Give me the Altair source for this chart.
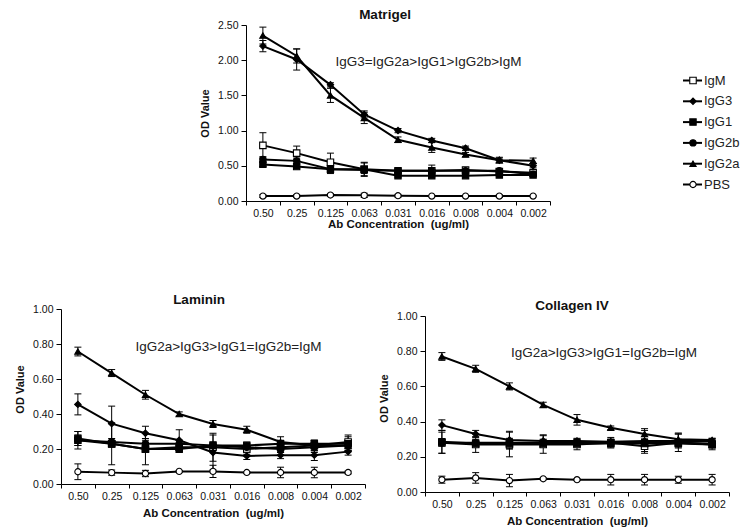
import altair as alt
import pandas as pd

# ---------------- data ----------------
conc = ["0.50", "0.25", "0.125", "0.063", "0.031", "0.016", "0.008", "0.004", "0.002"]
series = ["IgM", "IgG3", "IgG1", "IgG2b", "IgG2a", "PBS"]

# Matrigel
mat_IgM = [0.79, 0.68, 0.55, 0.45, 0.43, 0.43, 0.44, 0.42, 0.40]
mat_IgM_err = [0.18, 0.10, 0.13, 0.10, 0.03, 0.08, 0.03, 0.04, 0.03]
mat_IgG3 = [2.20, 2.01, 1.65, 1.23, 1.00, 0.86, 0.75, 0.58, 0.50]
mat_IgG3_err = [0.08, 0.15, 0.03, 0.05, 0.03, 0.03, 0.03, 0.03, 0.03]
mat_IgG1 = [0.52, 0.49, 0.45, 0.45, 0.36, 0.36, 0.36, 0.37, 0.37]
mat_IgG1_err = [0.03, 0.03, 0.05, 0.09, 0.02, 0.02, 0.02, 0.02, 0.02]
mat_IgG2b = [0.59, 0.57, 0.45, 0.44, 0.43, 0.43, 0.43, 0.43, 0.38]
mat_IgG2b_err = [0.04, 0.04, 0.06, 0.05, 0.02, 0.02, 0.02, 0.02, 0.02]
mat_IgG2a = [2.35, 2.06, 1.50, 1.18, 0.87, 0.76, 0.66, 0.58, 0.57]
mat_IgG2a_err = [0.12, 0.10, 0.10, 0.08, 0.04, 0.07, 0.03, 0.04, 0.04]
mat_PBS = [0.07, 0.07, 0.085, 0.08, 0.075, 0.07, 0.07, 0.07, 0.07]
mat_PBS_err = [0.02, 0.02, 0.02, 0.03, 0.02, 0.01, 0.01, 0.02, 0.01]

# Laminin
lam_IgM = [0.25, 0.23, 0.20, 0.21, 0.21, 0.20, 0.21, 0.22, 0.24]
lam_IgM_err = [0.05, 0.12, 0.09, 0.02, 0.08, 0.03, 0.03, 0.03, 0.04]
lam_IgG3 = [0.455, 0.345, 0.29, 0.25, 0.18, 0.16, 0.165, 0.165, 0.185]
lam_IgG3_err = [0.06, 0.10, 0.04, 0.06, 0.10, 0.02, 0.02, 0.03, 0.02]
lam_IgG1 = [0.26, 0.23, 0.20, 0.20, 0.22, 0.22, 0.23, 0.23, 0.23]
lam_IgG1_err = [0.04, 0.02, 0.02, 0.02, 0.02, 0.02, 0.02, 0.02, 0.04]
lam_IgG2b = [0.25, 0.24, 0.23, 0.23, 0.22, 0.21, 0.20, 0.21, 0.22]
lam_IgG2b_err = [0.03, 0.02, 0.03, 0.02, 0.02, 0.02, 0.02, 0.03, 0.03]
lam_IgG2a = [0.757, 0.634, 0.51, 0.40, 0.343, 0.31, 0.24, 0.22, 0.22]
lam_IgG2a_err = [0.025, 0.02, 0.025, 0.012, 0.02, 0.02, 0.03, 0.03, 0.03]
lam_PBS = [0.07, 0.065, 0.06, 0.072, 0.072, 0.066, 0.066, 0.066, 0.066]
lam_PBS_err = [0.045, 0.015, 0.018, 0.005, 0.035, 0.005, 0.03, 0.03, 0.008]

# Collagen IV
col_IgM = [0.28, 0.27, 0.27, 0.27, 0.27, 0.28, 0.26, 0.28, 0.27]
col_IgM_err = [0.06, 0.045, 0.07, 0.05, 0.03, 0.03, 0.04, 0.05, 0.03]
col_IgG3 = [0.38, 0.33, 0.295, 0.29, 0.29, 0.285, 0.29, 0.29, 0.29]
col_IgG3_err = [0.03, 0.02, 0.05, 0.035, 0.015, 0.015, 0.06, 0.04, 0.015]
col_IgG1 = [0.285, 0.275, 0.275, 0.275, 0.275, 0.275, 0.275, 0.275, 0.27]
col_IgG1_err = [0.065, 0.02, 0.03, 0.02, 0.02, 0.02, 0.02, 0.02, 0.02]
col_IgG2b = [0.28, 0.28, 0.28, 0.28, 0.28, 0.28, 0.28, 0.28, 0.275]
col_IgG2b_err = [0.02, 0.02, 0.02, 0.02, 0.02, 0.02, 0.02, 0.02, 0.02]
col_IgG2a = [0.77, 0.70, 0.60, 0.495, 0.41, 0.365, 0.33, 0.30, 0.295]
col_IgG2a_err = [0.022, 0.02, 0.02, 0.015, 0.03, 0.01, 0.03, 0.035, 0.01]
col_PBS = [0.07, 0.08, 0.065, 0.075, 0.07, 0.07, 0.07, 0.07, 0.07]
col_PBS_err = [0.02, 0.03, 0.035, 0.005, 0.005, 0.03, 0.03, 0.02, 0.03]

mat_ticks = [0.0, 0.5, 1.0, 1.5, 2.0, 2.5]
ecm_ticks = [0.0, 0.2, 0.4, 0.6, 0.8, 1.0]

# ---------------- style ----------------
FONT = "Liberation Sans"
shape_range = ["square", "diamond", "square", "circle", "triangle-up", "circle"]
fill_range = ["white", "black", "black", "black", "black", "white"]
size_range = [42, 38, 60, 45, 55, 36]


def long_df(vals, errs):
    rows = []
    for s in series:
        for c, v, e in zip(conc, vals[s], errs[s]):
            rows.append({"series": s, "conc": c, "od": v, "lo": v - e, "hi": v + e})
    return pd.DataFrame(rows)


mat_df = long_df(
    {"IgM": mat_IgM, "IgG3": mat_IgG3, "IgG1": mat_IgG1, "IgG2b": mat_IgG2b, "IgG2a": mat_IgG2a, "PBS": mat_PBS},
    {"IgM": mat_IgM_err, "IgG3": mat_IgG3_err, "IgG1": mat_IgG1_err, "IgG2b": mat_IgG2b_err, "IgG2a": mat_IgG2a_err, "PBS": mat_PBS_err},
)
lam_df = long_df(
    {"IgM": lam_IgM, "IgG3": lam_IgG3, "IgG1": lam_IgG1, "IgG2b": lam_IgG2b, "IgG2a": lam_IgG2a, "PBS": lam_PBS},
    {"IgM": lam_IgM_err, "IgG3": lam_IgG3_err, "IgG1": lam_IgG1_err, "IgG2b": lam_IgG2b_err, "IgG2a": lam_IgG2a_err, "PBS": lam_PBS_err},
)
col_df = long_df(
    {"IgM": col_IgM, "IgG3": col_IgG3, "IgG1": col_IgG1, "IgG2b": col_IgG2b, "IgG2a": col_IgG2a, "PBS": col_PBS},
    {"IgM": col_IgM_err, "IgG3": col_IgG3_err, "IgG1": col_IgG1_err, "IgG2b": col_IgG2b_err, "IgG2a": col_IgG2a_err, "PBS": col_PBS_err},
)


def panel(df, title, title_dx, title_dy, ymax, ticks, note, note_x, note_y,
          width, height, yrange, ytitle_y, xtitle_pad):
    xaxis = alt.Axis(title="Ab Concentration\u00a0 (ug/ml)", labelAngle=0, tickBand="extent",
                     tickSize=4, labelPadding=3, titlePadding=xtitle_pad, labelFontSize=10.5,
                     titleFontSize=11.5, titleFontWeight="bold", labelFont=FONT, titleFont=FONT,
                     domainColor="black", tickColor="black", labelColor="#111", titleColor="#111",
                     grid=False)
    xs = alt.Scale(type="band", domain=conc, paddingInner=0, paddingOuter=0)
    yaxis = alt.Axis(title="OD Value", values=ticks, format=".2f", grid=False, tickSize=5,
                     labelPadding=3, titlePadding=7, titleY=ytitle_y, labelFontSize=10.5,
                     titleFontSize=11, titleFontWeight="bold", labelFont=FONT, titleFont=FONT,
                     domainColor="black", tickColor="black", labelColor="#111", titleColor="#111")
    ys = alt.Scale(domain=[0, ymax], nice=False, zero=True, range=yrange)

    def X():
        return alt.X("conc:N", sort=conc, scale=xs, axis=xaxis)

    def Y(f):
        return alt.Y(f + ":Q", scale=ys, axis=yaxis)

    base = alt.Chart(df)
    err = base.mark_rule(color="black", strokeWidth=1).encode(x=X(), y=Y("lo"), y2="hi:Q")
    cap_lo = base.mark_tick(color="black", thickness=1, size=7, opacity=1).encode(x=X(), y=Y("lo"))
    cap_hi = base.mark_tick(color="black", thickness=1, size=7, opacity=1).encode(x=X(), y=Y("hi"))
    line = base.mark_line(color="black", strokeWidth=2).encode(x=X(), y=Y("od"), detail="series:N")
    pts = base.mark_point(stroke="black", strokeWidth=1.1, opacity=1, fillOpacity=1).encode(
        x=X(), y=Y("od"),
        shape=alt.Shape("series:N", scale=alt.Scale(domain=series, range=shape_range), legend=None),
        fill=alt.Fill("series:N", scale=alt.Scale(domain=series, range=fill_range), legend=None),
        size=alt.Size("series:N", scale=alt.Scale(domain=series, range=size_range), legend=None),
    )
    txt = alt.Chart(pd.DataFrame({"t": [note]})).mark_text(
        font=FONT, fontSize=13.5, color="#222", align="center", baseline="middle"
    ).encode(x=alt.value(note_x), y=alt.value(note_y), text="t:N")
    return alt.layer(err, cap_lo, cap_hi, line, pts, txt).properties(
        width=width, height=height,
        title=alt.TitleParams(title, font=FONT, fontSize=13.5, fontWeight="bold", color="#111",
                              anchor="middle", frame="group", dx=title_dx, dy=title_dy,
                              offset=2, baseline="bottom"),
    )


matrigel = panel(mat_df, "Matrigel", -13, 17.5, 2.5, mat_ticks,
                 "IgG3=IgG2a>IgG1>IgG2b>IgM", 182.5, 36.5, 304, 176, [176, 0], 88, 0)
laminin = panel(lam_df, "Laminin", -14, 18.3, 1.0, ecm_ticks,
                "IgG2a>IgG3>IgG1=IgG2b=IgM", 167.5, 38.3, 304, 175, [175, 0], 80, 6)
collagen = panel(col_df, "Collagen IV", -5, 19, 1.0, ecm_ticks,
                 "IgG2a>IgG3>IgG1=IgG2b=IgM", 179, 44, 304, 183, [183, 7], 89, 6)

# spacer to push the Matrigel panel right
SP = 138
spacer = alt.Chart(pd.DataFrame({"v": [0]})).mark_rule(strokeOpacity=0).encode(
    x=alt.value(0), x2=alt.value(SP), y=alt.value(0)
).properties(width=SP, height=10)

# custom legend
leg_df = pd.DataFrame({"series": series})
ly = alt.Y("series:N", sort=series, scale=alt.Scale(type="point", domain=series, range=[55.5, 159.5], padding=0), axis=None)
LW = 190
leg_box = alt.Chart(pd.DataFrame({"v": [0]})).mark_rule(strokeOpacity=0).encode(
    x=alt.value(0), x2=alt.value(LW), y=alt.value(0))
leg_line = alt.Chart(leg_df).mark_rule(color="black", strokeWidth=2).encode(
    x=alt.value(132), x2=alt.value(151), y=ly)
leg_pts = alt.Chart(leg_df).mark_point(stroke="black", strokeWidth=1.1, opacity=1, fillOpacity=1).encode(
    x=alt.value(142), y=ly,
    shape=alt.Shape("series:N", scale=alt.Scale(domain=series, range=shape_range), legend=None),
    fill=alt.Fill("series:N", scale=alt.Scale(domain=series, range=fill_range), legend=None),
    size=alt.Size("series:N", scale=alt.Scale(domain=series, range=size_range), legend=None),
)
leg_txt = alt.Chart(leg_df).mark_text(font=FONT, fontSize=13, color="#222", align="left", baseline="middle").encode(
    x=alt.value(153), y=ly, text="series:N")
legend = alt.layer(leg_box, leg_line, leg_pts, leg_txt).properties(width=LW, height=176)

top = alt.hconcat(spacer, matrigel, legend, spacing=0)
bottom = alt.hconcat(laminin, collagen, spacing=12)

chart = alt.vconcat(top, bottom, spacing=62).properties(
    padding={"left": 14, "top": 8, "right": 0, "bottom": 0}
).configure(background="white").configure_view(stroke=None)

chart.save("out.html", embed_options={"renderer": "svg", "actions": False})
